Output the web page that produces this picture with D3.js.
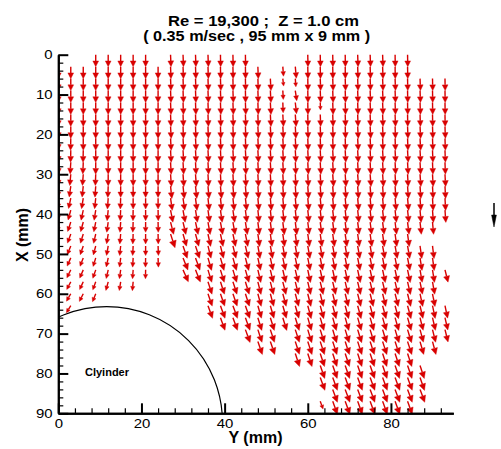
<!DOCTYPE html>
<html>
<head>
<meta charset="utf-8">
<script src="https://cdn.jsdelivr.net/npm/d3@7"></script>
<style>
  body { margin: 0; background: #fff; }
  svg { display: block; }
</style>
</head>
<body>
<svg id="chart" width="501" height="449"></svg>
<script>
// ---- PIV vector field around a cylinder ----
const _ = null;

// measurement grid (mm): spanwise Y columns, streamwise X rows
const spanY  = [0,3,6,9,12,15,18,21,24,27,30,33,36,39,42,45,48,51,54,57,60,63,66,69,72,75,78,81,84,87,90,93];
const depthX = [0,3,6,9,12,15,18,21,24,27,30,33,36,39,42,45,48,51,54,57,60,63,66,69,72,75,78,81,84,87];

// flow direction per grid point, degrees from +X (positive leans toward +Y)
const flowAngle = [
  [_,_,_,0,0,0,0,0,_,  2,2,2,2,1,1,1,_,_,_,_,  1,1,1,1,2,2,2,1,1,  _,_,_],
  [0,0,0,0,0,0,0,0,0,  2,2,2,2,1,1,1,2,_,4,5,  1,1,1,1,2,2,2,1,1,  _,_,_],
  [0,0,0,0,0,0,0,0,0,  2,2,2,2,2,1,1,2,3,6,4,  1,2,2,2,2,2,2,2,1,  2,1,1],
  [0,0,0,0,0,0,0,0,0,  2,2,2,2,2,2,1,2,3,3,8,  1,2,2,2,2,2,2,2,1,  2,1,1],
  [0,0,0,0,0,0,0,0,0,  2,2,2,2,2,2,2,2,3,2,6,  1,2,2,2,2,2,2,2,1,  2,1,1],
  [0,0,0,0,0,0,0,0,0,  2,2,2,2,2,2,2,2,3,3,4,  1,2,2,2,2,2,2,2,1,  2,1,1],
  [0,0,0,0,0,0,0,0,0,  3,2,2,2,2,2,2,3,3,3,3,  2,2,2,2,3,3,2,2,2,  3,2,2],
  [0,-1,0,0,0,0,0,0,0, 3,3,3,2,2,2,2,3,3,3,3,  2,2,2,2,3,3,2,2,2,  3,2,2],
  [0,-1,-1,0,0,0,0,0,0, 3,3,3,3,3,3,3,3,3,3,3, 3,3,3,3,3,3,3,3,3,  3,2,2],
  [0,-3,-2,0,0,0,0,0,0, 3,3,3,3,3,3,3,3,3,3,3, 3,3,3,3,3,3,3,3,3,  3,2,2],
  [0,-5,-4,-2,0,0,0,0,0, 4,4,4,3,3,3,3,3,3,3,3, 3,3,4,4,4,4,4,3,3, 4,3,3],
  [-2,-8,-6,-4,-2,0,0,0,0, 6,6,6,5,5,5,5,4,4,4,4, 4,4,4,4,4,4,4,4,4, 4,3,3],
  [-3,-12,-9,-6,-4,-2,0,0,0, 8,8,7,6,6,6,6,5,5,5,5, 5,5,5,5,5,5,5,5,5, 4,3,3],
  [-4,-15,-12,-9,-6,-3,-1,0,1, 11,10,9,8,8,8,7,6,6,6,6, 6,6,6,6,6,6,6,6,6, 5,4,4],
  [-5,-18,-15,-11,-8,-4,-2,0,1, 14,13,12,10,10,10,9,7,7,7,7, 7,7,7,7,7,7,7,7,7, 6,5,_],
  [_,-20,-17,-13,-9,-5,-2,0,1, 18,16,15,12,12,12,11,8,8,8,8, 8,8,8,8,8,8,8,8,8, _,_,_],
  [_,-22,-19,-15,-10,-6,-3,0,2, _,19,18,14,14,14,13,10,10,10,10, 10,10,10,10,10,10,10,10,10, 8,7,_],
  [_,-24,-21,-17,-12,-7,-3,-1,2, _,22,20,16,16,16,15,12,12,12,12, 11,11,11,11,11,11,11,11,11, 9,8,_],
  [_,-26,-23,-19,-13,-8,-4,-1,_, _,24,22,17,17,17,16,13,13,13,13, 12,12,12,12,12,12,12,12,12, 10,9,14],
  [_,-28,-25,-20,-15,-9,-5,_,_, _,_,_,18,18,18,17,14,14,14,14, 13,13,13,13,13,13,13,13,13, 11,10,_],
  [_,-30,-27,-22,_,_,_,_,_, _,_,_,19,19,19,18,15,15,15,15, 14,14,14,14,14,14,14,14,14, 12,11,_],
  [_,-32,_,_,_,_,_,_,_, _,_,_,20,20,20,19,16,16,16,16, 15,15,15,15,15,15,15,15,15, 13,12,12],
  [_,_,_,_,_,_,_,_,_, _,_,_,_,20,20,20,17,17,17,17, 16,16,16,16,16,16,16,16,16, 14,13,13],
  [_,_,_,_,_,_,_,_,_, _,_,_,_,_,_,20,18,18,_,18, 17,17,17,17,17,17,17,17,17, 15,14,14],
  [_,_,_,_,_,_,_,_,_, _,_,_,_,_,_,_,19,19,_,18, 18,18,18,18,18,18,18,18,18, 16,15,_],
  [_,_,_,_,_,_,_,_,_, _,_,_,_,_,_,_,_,_,_,18, 18,18,18,18,18,18,18,18,18, _,_,_],
  [_,_,_,_,_,_,_,_,_, _,_,_,_,_,_,_,_,_,_,_, _,19,19,19,19,19,19,19,19, 18,_,_],
  [_,_,_,_,_,_,_,_,_, _,_,_,_,_,_,_,_,_,_,_, _,20,20,20,20,20,20,20,20, 19,_,_],
  [_,_,_,_,_,_,_,_,_, _,_,_,_,_,_,_,_,_,_,_, _,_,20,20,20,20,20,20,20, 20,_,_],
  [_,_,_,_,_,_,_,_,_, _,_,_,_,_,_,_,_,_,_,_, _,20,20,20,20,20,20,20,20, _,_,_]
];

// speed per grid point (cm/s)
const flowSpeed = [
  [_,_,_,35,35,35,35,35,_,  35,35,35,35,35,35,35,_,_,_,_,  35,35,35,35,35,35,35,35,35, _,_,_],
  [35,35,35,35,35,35,35,35,35, 35,35,35,35,35,35,35,35,_,28,34, 35,35,35,35,35,35,35,35,35, _,_,_],
  [35,35,35,35,35,35,35,35,35, 35,35,35,35,35,35,35,35,35,22,24, 35,35,35,35,35,35,35,35,35, 35,35,35],
  [35,35,35,35,35,35,35,35,35, 35,35,35,35,35,35,35,35,35,26,30, 35,35,35,35,35,35,35,35,35, 35,35,35],
  [35,35,35,35,35,35,35,35,35, 35,35,35,35,35,35,35,35,35,30,33, 35,22,35,35,35,35,35,35,35, 35,35,35],
  [35,35,35,35,35,35,35,35,35, 35,35,35,35,35,35,35,35,35,35,35, 35,35,35,35,35,35,35,35,35, 35,35,35],
  [35,35,35,35,35,35,35,35,35, 35,35,35,35,35,35,35,35,35,35,35, 35,35,35,35,35,35,35,35,35, 35,35,35],
  [35,35,35,35,35,35,35,35,35, 35,35,35,35,35,35,35,35,35,35,35, 35,35,35,35,35,35,35,35,35, 35,35,35],
  [35,35,35,35,35,35,35,35,35, 35,35,35,35,35,35,35,35,35,35,35, 35,35,35,35,35,35,35,35,35, 35,35,35],
  [35,34,34,35,35,35,35,35,35, 35,35,35,35,35,35,35,35,35,35,35, 35,35,35,35,35,35,35,35,35, 35,35,35],
  [34,33,33,33,34,34,34,34,34, 36,36,36,36,36,36,36,36,36,36,36, 36,36,36,36,36,36,36,36,36, 36,36,36],
  [33,32,32,32,33,33,33,33,33, 36,36,36,36,36,36,36,36,36,36,36, 36,36,36,36,36,36,36,36,36, 36,36,36],
  [32,31,31,31,32,32,32,32,32, 36,36,36,36,36,36,36,36,36,36,36, 36,36,36,36,36,36,36,36,36, 36,36,36],
  [31,30,30,30,31,31,31,31,31, 36,36,36,36,36,36,36,36,36,36,36, 36,36,36,36,36,36,36,36,36, 36,36,36],
  [30,29,29,29,30,30,30,30,30, 37,37,37,37,37,37,37,37,37,37,37, 36,36,36,36,36,36,36,36,36, 36,36,_],
  [_,28,28,28,29,29,29,29,29, 42,37,37,37,37,37,37,37,37,37,37, 37,37,37,37,37,37,37,37,37, _,_,_],
  [_,27,27,27,28,28,28,28,28, _,38,38,37,37,37,37,37,37,37,37, 37,37,37,37,37,37,37,37,37, 37,37,_],
  [_,26,26,26,27,27,27,27,27, _,38,38,38,38,38,38,37,37,37,37, 37,37,37,37,37,37,37,37,37, 37,37,_],
  [_,26,26,26,26,26,26,26,_, _,38,38,38,38,38,38,38,38,38,38, 38,38,38,38,38,38,38,38,38, 37,37,37],
  [_,25,25,25,26,26,26,_,_, _,_,_,38,38,38,38,38,38,38,38, 38,38,38,38,38,38,38,38,38, 37,37,_],
  [_,25,25,25,_,_,_,_,_, _,_,_,38,38,38,38,38,38,38,38, 38,38,38,38,38,38,38,38,38, 38,38,_],
  [_,24,_,_,_,_,_,_,_, _,_,_,39,39,39,39,38,38,38,38, 39,39,39,39,39,39,39,39,39, 38,38,37],
  [_,_,_,_,_,_,_,_,_, _,_,_,_,39,39,39,39,39,39,39, 39,39,39,39,39,39,39,39,39, 38,38,37],
  [_,_,_,_,_,_,_,_,_, _,_,_,_,_,_,40,39,39,_,39, 40,40,40,40,40,40,40,40,40, 38,38,37],
  [_,_,_,_,_,_,_,_,_, _,_,_,_,_,_,_,40,40,_,39, 40,40,40,40,40,40,40,40,40, 39,39,_],
  [_,_,_,_,_,_,_,_,_, _,_,_,_,_,_,_,_,_,_,40, 40,40,40,40,40,40,40,40,40, _,_,_],
  [_,_,_,_,_,_,_,_,_, _,_,_,_,_,_,_,_,_,_,_, _,40,40,40,40,40,40,40,40, 40,_,_],
  [_,_,_,_,_,_,_,_,_, _,_,_,_,_,_,_,_,_,_,_, _,40,40,40,40,40,40,40,40, 40,_,_],
  [_,_,_,_,_,_,_,_,_, _,_,_,_,_,_,_,_,_,_,_, _,_,40,40,40,40,40,40,40, 40,_,_],
  [_,_,_,_,_,_,_,_,_, _,_,_,_,_,_,_,_,_,_,_, _,24,40,40,40,40,40,40,40, _,_,_]
];

const referenceSpeed = 70;               // cm/s, reference vector
const yAxisTicks = [0,10,20,30,40,50,60,70,80,90];
const yAxisMinor = [2,4,6,8,12,14,16,18,22,24,26,28,32,34,36,38,42,44,46,48,52,54,56,58,62,64,66,68,72,74,76,78,82,84,86,88];
const xAxisTicks = [0,20,40,60,80];
const xAxisMinor = [4,8,12,16,24,28,32,36,44,48,52,56,64,68,72,76,84,88,92];
const cylinder = { centerY: 11.64, centerX: 92.3, radius: 27.85, label: "Clyinder" };
const titleLines = ["Re = 19,300 ;  Z = 1.0 cm", "( 0.35 m/sec , 95 mm x 9 mm )"];

// ---- scales ----
const x = d3.scaleLinear().domain([0, 95]).range([58.3, 453.3]);   // Y (mm)
const y = d3.scaleLinear().domain([0, 90]).range([54.7, 413.3]);   // X (mm), downward
const arrowLen = d3.scaleLinear().domain([0, 35]).range([0, 12]);   // cm/s -> px

const svg = d3.select("#chart");
const FONT = "'Liberation Sans', Arial, Helvetica, sans-serif";
const RED = "#d80000";

svg.append("defs").append("clipPath").attr("id", "plot-clip")
  .append("rect")
  .attr("x", x(0)).attr("y", y(0) - 2)
  .attr("width", x(95) - x(0)).attr("height", y(90) - y(0) + 4);

// ---- vectors ----
const vectors = [];
depthX.forEach((X, i) => {
  spanY.forEach((Y, j) => {
    const a = flowAngle[i][j], s = flowSpeed[i][j];
    if (a !== null && s !== null) vectors.push({ Y, X, angle: a, speed: s });
  });
});

function arrowGeom(x0, y0, L, deg, headFrac, halfFrac) {
  const t = deg * Math.PI / 180;
  const ux = Math.sin(t), uy = Math.cos(t);
  const tx = x0 + ux * L, ty = y0 + uy * L;
  const h = headFrac * L, w = halfFrac * L;
  const bx = tx - ux * h, by = ty - uy * h;
  const px = -uy, py = ux;
  return {
    shaft: `M${x0},${y0}L${bx},${by}`,
    head: `M${tx},${ty}L${bx + px * w},${by + py * w}L${bx - px * w},${by - py * w}Z`
  };
}

const field = svg.append("g").attr("clip-path", "url(#plot-clip)");
const arrows = field.selectAll("g.vec").data(vectors).join("g").attr("class", "vec");
arrows.each(function (d) {
  const g = arrowGeom(x(d.Y), y(d.X), arrowLen(d.speed), d.angle, 0.48, 0.24);
  const sel = d3.select(this);
  sel.append("path").attr("d", g.shaft).attr("stroke", RED).attr("stroke-width", 1.4).attr("fill", "none");
  sel.append("path").attr("d", g.head).attr("fill", RED).attr("stroke", RED).attr("stroke-width", 0.4);
});

// ---- cylinder outline ----
svg.append("defs").append("clipPath").attr("id", "cyl-clip")
  .append("rect").attr("x", x(0)).attr("y", y(0))
  .attr("width", x(95) - x(0)).attr("height", y(90) - y(0));
svg.append("circle")
  .attr("clip-path", "url(#cyl-clip)")
  .attr("cx", x(cylinder.centerY)).attr("cy", y(cylinder.centerX))
  .attr("r", x(cylinder.radius) - x(0))
  .attr("fill", "none").attr("stroke", "#000").attr("stroke-width", 1.2);

svg.append("text")
  .attr("x", 85).attr("y", 375.7)
  .attr("font-family", FONT).attr("font-size", 11).attr("font-weight", "bold")
  .text(cylinder.label);

// ---- axes ----
function styleAxis(g, major) {
  g.select(".domain").attr("stroke", "#000").attr("stroke-width", 2);
  g.selectAll(".tick line").attr("stroke", "#000").attr("stroke-width", major ? 2 : 1.2);
}

const xMinor = svg.append("g").attr("transform", `translate(0,${y(90)})`)
  .call(d3.axisBottom(x).tickValues(xAxisMinor).tickSize(-5).tickSizeOuter(0).tickFormat(""));
styleAxis(xMinor, false);
const xMajor = svg.append("g").attr("transform", `translate(0,${y(90)})`)
  .call(d3.axisBottom(x).tickValues(xAxisTicks).tickSize(-10).tickSizeOuter(0).tickPadding(5.5).tickFormat(d3.format("d")));
styleAxis(xMajor, true);
xMajor.selectAll(".tick text")
  .attr("font-family", FONT).attr("font-size", 13).attr("fill", "#000")
  .attr("transform", "scale(1.15,1)");

const yMinor = svg.append("g").attr("transform", `translate(${x(0)},0)`)
  .call(d3.axisLeft(y).tickValues(yAxisMinor).tickSize(-5).tickSizeOuter(0).tickFormat(""));
styleAxis(yMinor, false);
const yMajor = svg.append("g").attr("transform", `translate(${x(0)},0)`)
  .call(d3.axisLeft(y).tickValues(yAxisTicks).tickSize(-10).tickSizeOuter(0).tickPadding(5).tickFormat(d3.format("d")));
styleAxis(yMajor, true);
yMajor.selectAll(".tick text")
  .attr("font-family", FONT).attr("font-size", 13).attr("fill", "#000")
  .attr("transform", "scale(1.15,1)");

// axis titles
svg.append("text")
  .attr("x", 255.5).attr("y", 443).attr("text-anchor", "middle")
  .attr("font-family", FONT).attr("font-size", 16).attr("font-weight", "bold")
  .text("Y (mm)");
svg.append("text")
  .attr("transform", "translate(28,235) rotate(-90)").attr("text-anchor", "middle")
  .attr("font-family", FONT).attr("font-size", 16).attr("font-weight", "bold")
  .text("X (mm)");

// title
const titleX = [263.5, 256.7], titleY = [25.7, 41], titleW = [191, 227];
titleLines.forEach((t, i) => {
  svg.append("text")
    .attr("x", titleX[i]).attr("y", titleY[i]).attr("text-anchor", "middle")
    .attr("font-family", FONT).attr("font-size", 15).attr("font-weight", "bold")
    .attr("textLength", titleW[i]).attr("lengthAdjust", "spacingAndGlyphs")
    .style("white-space", "pre")
    .text(t);
});

// reference vector
const ref = arrowGeom(494, 203, arrowLen(referenceSpeed), 0, 0.5, 0.1);
svg.append("path").attr("d", ref.shaft).attr("stroke", "#000").attr("stroke-width", 1.5).attr("fill", "none");
svg.append("path").attr("d", ref.head).attr("fill", "#000").attr("stroke", "#000").attr("stroke-width", 0.5);
</script>
</body>
</html>
